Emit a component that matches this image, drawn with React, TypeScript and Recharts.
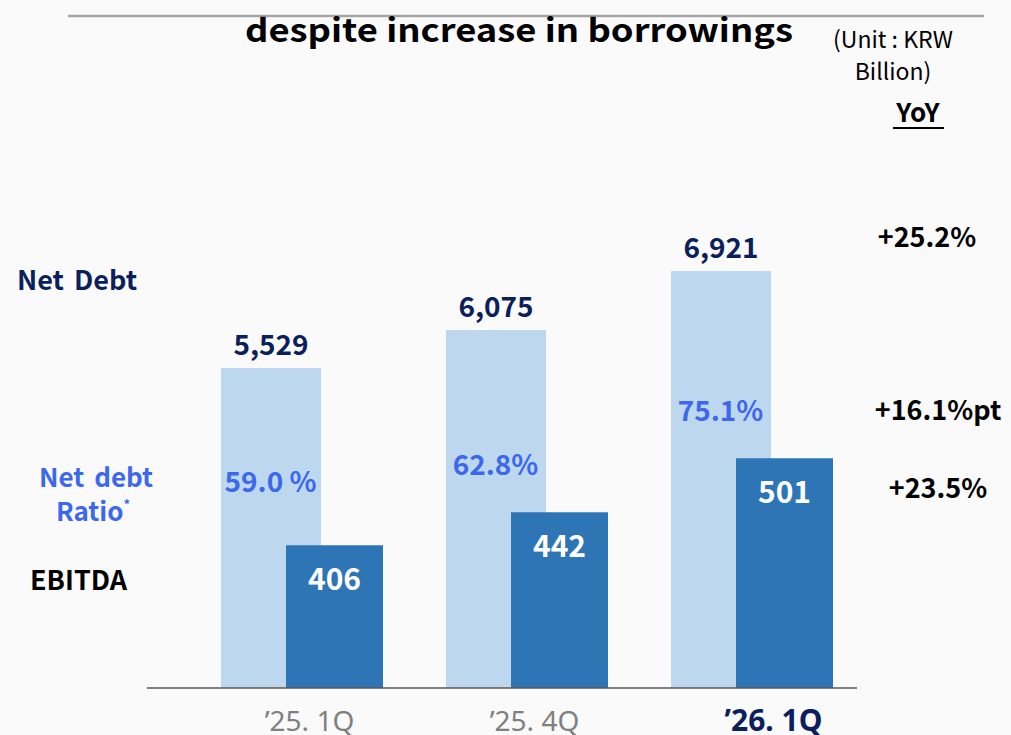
import React from 'react';
import { BarChart, Bar, Line, XAxis, YAxis, LabelList } from 'recharts';

const categories = ['\u201925. 1Q', '\u201925. 4Q', '\u201926. 1Q'];
const netDebt = [5529, 6075, 6921];
const ebitda = [406, 442, 501];
const netDebtRatio = [59.0, 62.8, 75.1];
const ratioLabels = ['59.0 %', '62.8%', '75.1%'];
const yoyLabels = ['+25.2%', '+16.1%pt', '+23.5%'];

const FONT = '"Noto Sans CJK KR", "Noto Sans", sans-serif';
const TICK_FONT = '"Noto Sans", "Open Sans", sans-serif';
const NAVY = '#0B1F5C';
const LIGHT = '#BDD7EE';
const DARK = '#2E75B6';
const RATIO = '#3B68EC';

const chartData = categories.map((c, i) => ({
  category: c,
  netDebt: netDebt[i],
  ebitda: ebitda[i],
  ratio: netDebtRatio[i],
}));

const NetDebtLabel = (props: any) => {
  const { x, y, width, value } = props;
  return (
    <text x={x + width / 2} y={y - 13} textAnchor="middle" style={{ fontFamily: FONT, fontWeight: 700, fontSize: 28 }} fill={NAVY}>
      {Number(value).toLocaleString('en-US')}
    </text>
  );
};

const EbitdaLabel = (props: any) => {
  const { x, y, width, value } = props;
  return (
    <text x={x + width / 2} y={y + 45} textAnchor="middle" style={{ fontFamily: FONT, fontWeight: 700, fontSize: 30 }} fill="#ffffff">
      {value}
    </text>
  );
};

const RatioLabel = (props: any) => {
  const { x, y, index } = props;
  return (
    <text x={x - 31} y={y + 10} textAnchor="middle" style={{ fontFamily: FONT, fontWeight: 700, fontSize: 28 }} fill={RATIO}>
      {ratioLabels[index]}
    </text>
  );
};

const CategoryTick = (props: any) => {
  const { x, y, payload, index } = props;
  const last = index === categories.length - 1;
  return (
    <g>
      <text
        x={x + (last ? 22 : 8)}
        y={y + 35}
        textAnchor="middle"
        fontFamily={TICK_FONT}
        fontWeight={last ? 700 : 400}
        fontSize={last ? 30 : 28}
        fill={last ? NAVY : '#808080'}
      >
        {payload.value}
      </text>
    </g>
  );
};

export default function App() {
  return (
    <div style={{ position: 'relative', width: 1011, height: 735, background: '#FAFAFA', overflow: 'hidden', fontFamily: FONT }}>
      <style>{`body{margin:0;background:#FAFAFA}`}</style>
      <BarChart
        width={1011}
        height={735}
        data={chartData}
        margin={{ top: 200, right: 147, bottom: 17, left: 189 }}
        barGap={-35}
      >
        <XAxis dataKey="category" axisLine={false} tickLine={false} height={30} tick={<CategoryTick />} interval={0} />
        <YAxis yAxisId="debt" hide type="number" domain={[938, 7939]} allowDataOverflow />
        <YAxis yAxisId="ebitda" hide type="number" domain={[250, 783]} allowDataOverflow />
        <YAxis yAxisId="ratio" hide type="number" domain={[12.4, 122.8]} allowDataOverflow />
        <Bar dataKey="netDebt" yAxisId="debt" fill={LIGHT} barSize={100} isAnimationActive={false}>
          <LabelList dataKey="netDebt" content={<NetDebtLabel />} />
        </Bar>
        <Bar dataKey="ebitda" yAxisId="ebitda" fill={DARK} barSize={97} isAnimationActive={false}>
          <LabelList dataKey="ebitda" content={<EbitdaLabel />} />
        </Bar>
        <Line
          dataKey="ratio"
          yAxisId="ratio"
          stroke="none"
          dot={false}
          activeDot={false}
          legendType="none"
          isAnimationActive={false}
        >
          <LabelList dataKey="ratio" content={<RatioLabel />} />
        </Line>
      </BarChart>

      <svg
        width={1011}
        height={735}
        style={{ position: 'absolute', left: 0, top: 0, pointerEvents: 'none', fontFamily: FONT }}
      >
        <line x1={68} y1={16} x2={984} y2={16} stroke="#A6A6A6" strokeWidth={2.5} />
        <text x={245} y={42} fontSize={32} fontWeight={700} fill="#000" textLength={548} lengthAdjust="spacingAndGlyphs">
          despite increase in borrowings
        </text>
        <text x={893} y={48} textAnchor="middle" fontSize={23} fill="#000">(Unit : KRW</text>
        <text x={893} y={80} textAnchor="middle" fontSize={23} fill="#000">Billion)</text>
        <text x={918} y={122} textAnchor="middle" fontSize={26} fontWeight={700} fill="#000">YoY</text>
        <line x1={893} y1={128} x2={944} y2={128} stroke="#000" strokeWidth={2} />

        <text x={17} y={290} fontSize={27} fontWeight={700} fill={NAVY} wordSpacing={4}>Net Debt</text>
        <text x={96} y={487} textAnchor="middle" fontSize={26} fontWeight={700} fill={RATIO} wordSpacing={4}>Net debt</text>
        <text x={93} y={521} textAnchor="middle" fontSize={26} fontWeight={700} fill={RATIO}>
          Ratio<tspan fontSize={13} dy={-12}>*</tspan>
        </text>
        <text x={30} y={590} fontSize={27} fontWeight={700} fill="#000">EBITDA</text>

        <text x={927} y={247} textAnchor="middle" fontSize={27} fontWeight={700} fill="#000">{yoyLabels[0]}</text>
        <text x={938} y={420} textAnchor="middle" fontSize={27} fontWeight={700} fill="#000">{yoyLabels[1]}</text>
        <text x={938} y={498} textAnchor="middle" fontSize={27} fontWeight={700} fill="#000">{yoyLabels[2]}</text>

        <line x1={147} y1={688} x2={857} y2={688} stroke="#595959" strokeWidth={1.5} />
      </svg>
    </div>
  );
}
